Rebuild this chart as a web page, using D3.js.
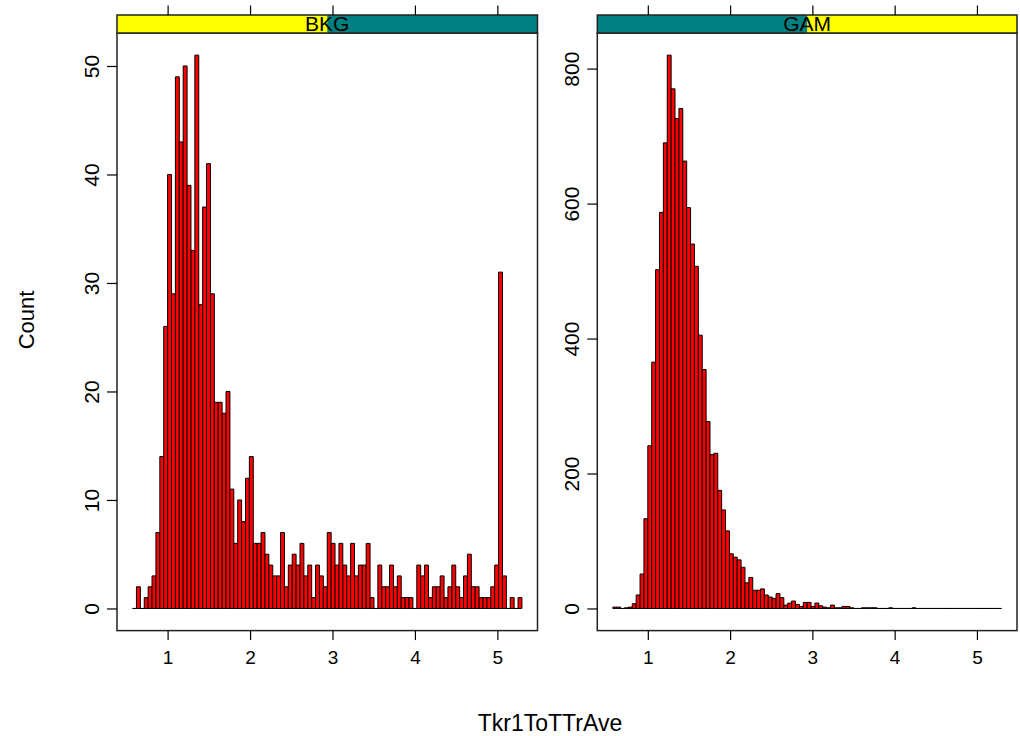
<!DOCTYPE html>
<html>
<head>
<meta charset="utf-8">
<script src="https://cdn.jsdelivr.net/npm/d3@7"></script>
<style>
  body { margin: 0; background: #fff; }
  svg { display: block; font-family: "Liberation Sans", Arial, sans-serif; }
</style>
</head>
<body>
<svg width="1020" height="736"></svg>
<script>
// shared histogram breaks (100 equal bins)
var breakLo = 0.575, breakHi = 5.298, nBins = 100;

var levels = ["BKG", "GAM"];

var bkgCounts = [
  0, 2, 0, 1, 2, 3, 7, 14, 26, 40,
  29, 49, 43, 50, 39, 33, 51, 28, 37, 41,
  29, 19, 19, 18, 20, 11, 6, 10, 8, 12,
  14, 6, 6, 7, 5, 4, 3, 3, 7, 2,
  4, 5, 4, 6, 3, 4, 1, 4, 3, 2,
  7, 6, 4, 6, 4, 3, 6, 3, 4, 4,
  6, 1, 0, 4, 2, 2, 4, 2, 3, 1,
  1, 1, 0, 4, 3, 4, 1, 2, 2, 3,
  1, 2, 4, 2, 1, 3, 5, 2, 2, 1,
  1, 1, 2, 4, 31, 3, 0, 1, 0, 1
];

var gamCounts = [
  2, 2, 0, 1, 2, 7, 20, 51, 133, 241,
  365, 502, 587, 690, 820, 770, 726, 741, 663, 594,
  540, 507, 405, 354, 277, 228, 230, 175, 146, 115,
  81, 76, 72, 61, 38, 46, 27, 27, 29, 20,
  17, 15, 22, 16, 5, 8, 11, 6, 3, 9,
  9, 3, 8, 4, 2, 1, 5, 1, 1, 3,
  3, 1, 0, 0, 1, 1, 1, 1, 0, 0,
  0, 1, 0, 0, 0, 0, 0, 1, 0, 0,
  0, 0, 0, 0, 0, 0, 0, 0, 0, 0,
  0, 0, 0, 0, 0, 0, 0, 0, 0, 0
];

var xTicks = [1, 2, 3, 4, 5];
var yTicksBkg = [0, 10, 20, 30, 40, 50];
var yTicksGam = [0, 200, 400, 600, 800];

var svg = d3.select("svg");

var step = (breakHi - breakLo) / nBins;
var edges = d3.range(nBins + 1).map(function(i) { return breakLo + i * step; });
var pad = (breakHi - breakLo) * 0.04;

var panelTop = 33, panelBottom = 630.6, stripTop = 15;
var panels = [
  { name: levels[0], counts: bkgCounts, ticks: yTicksBkg, left: 117, right: 537.5, level: 0 },
  { name: levels[1], counts: gamCounts, ticks: yTicksGam, left: 597.3, right: 1017, level: 1 }
];

panels.forEach(function(p) {
  var x = d3.scaleLinear()
    .domain([breakLo - pad, breakHi + pad])
    .range([p.left, p.right]);
  var maxC = d3.max(p.counts);
  var y = d3.scaleLinear()
    .domain([-0.04 * maxC, 1.04 * maxC])
    .range([panelBottom, panelTop]);

  var g = svg.append("g");

  // bars as closed paths so empty bins still show as a flat line
  g.selectAll("path.bar")
    .data(p.counts)
    .enter().append("path")
    .attr("class", "bar")
    .attr("d", function(d, i) {
      var x0 = x(edges[i]), x1 = x(edges[i + 1]), y0 = y(0), y1 = y(d);
      return "M" + x0 + "," + y0 + "V" + y1 + "H" + x1 + "V" + y0 + "Z";
    })
    .attr("fill", "#ff0000")
    .attr("stroke", "#000")
    .attr("stroke-width", 1);

  // panel box
  g.append("rect")
    .attr("x", p.left).attr("y", panelTop)
    .attr("width", p.right - p.left).attr("height", panelBottom - panelTop)
    .attr("fill", "none").attr("stroke", "#222").attr("stroke-width", 1.5);

  // strip
  var sw = p.right - p.left;
  g.append("rect")
    .attr("x", p.left).attr("y", stripTop)
    .attr("width", sw).attr("height", panelTop - stripTop)
    .attr("fill", "#008080");
  g.append("rect")
    .attr("x", p.left + sw * p.level / levels.length).attr("y", stripTop)
    .attr("width", sw / levels.length).attr("height", panelTop - stripTop)
    .attr("fill", "#ffff00");
  g.append("rect")
    .attr("x", p.left).attr("y", stripTop)
    .attr("width", sw).attr("height", panelTop - stripTop)
    .attr("fill", "none").attr("stroke", "#222").attr("stroke-width", 1.5);
  g.append("text")
    .attr("x", (p.left + p.right) / 2)
    .attr("y", panelTop - 2)
    .attr("text-anchor", "middle")
    .style("font-size", "21px")
    .text(p.name);

  // bottom axis
  var bx = g.append("g")
    .attr("transform", "translate(0," + panelBottom + ")")
    .call(d3.axisBottom(x).tickValues(xTicks).tickSize(9.5).tickPadding(10).tickFormat(d3.format("d")));
  bx.select(".domain").remove();
  bx.selectAll("text").style("font-size", "19px").attr("fill", "#000");

  // top ticks (no labels)
  var tx = g.append("g")
    .attr("transform", "translate(0," + stripTop + ")")
    .call(d3.axisTop(x).tickValues(xTicks).tickSize(9.5).tickFormat(""));
  tx.select(".domain").remove();

  // left axis with rotated labels
  var ly = g.append("g")
    .attr("transform", "translate(" + p.left + ",0)")
    .call(d3.axisLeft(y).tickValues(p.ticks).tickSize(10).tickFormat(d3.format("d")));
  ly.select(".domain").remove();
  ly.selectAll("text")
    .attr("transform", "rotate(-90)")
    .attr("x", 0)
    .attr("y", -18.5)
    .attr("dy", 0)
    .attr("text-anchor", "middle")
    .attr("fill", "#000")
    .style("font-size", "21px");
});

svg.selectAll(".tick line").attr("stroke", "#000").attr("stroke-width", 1.2);

svg.append("text")
  .attr("transform", "translate(34,320) rotate(-90)")
  .attr("text-anchor", "middle")
  .style("font-size", "22px")
  .text("Count");

svg.append("text")
  .attr("x", 550)
  .attr("y", 731)
  .attr("text-anchor", "middle")
  .style("font-size", "23px")
  .text("Tkr1ToTTrAve");
</script>
</body>
</html>
